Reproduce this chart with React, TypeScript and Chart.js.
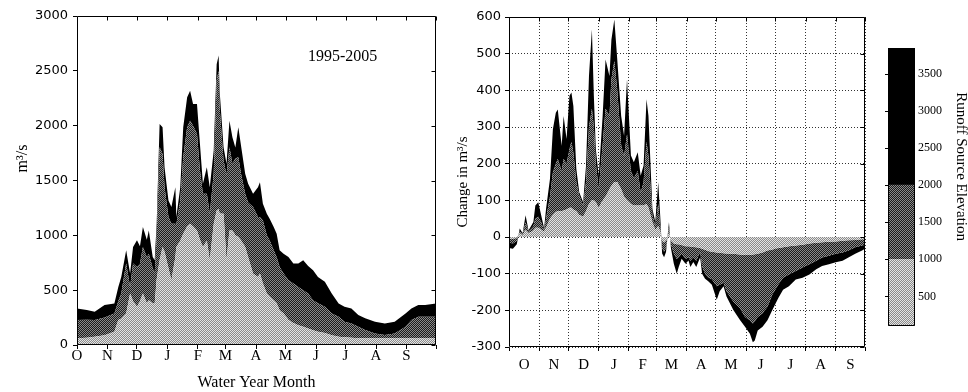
import React, { useEffect, useRef } from 'react';
import { Chart, registerables } from 'chart.js';

Chart.register(...registerables);

// ---------- data ----------
const monthLabels = ['O', 'N', 'D', 'J', 'F', 'M', 'A', 'M', 'J', 'J', 'A', 'S'];
const monthStarts = [0, 31, 61, 92, 123, 151, 182, 212, 243, 273, 304, 335, 365];
const monthMids = monthStarts.slice(0, 12).map((d, i) => (d + monthStarts[i + 1]) / 2);
const flowTicks = [0, 500, 1000, 1500, 2000, 2500, 3000];
const changeTicks = [-300, -200, -100, 0, 100, 200, 300, 400, 500, 600];
const elevTicks = [500, 1000, 1500, 2000, 2500, 3000, 3500];
const elevBands = [100, 1000, 2000, 3850];
const periodLabel = '1995-2005';

// Left panel: daily flow 1995-2005 (m3/s), cumulative layer tops by elevation band
const leftDays = [0, 10, 18, 28, 38, 42, 45, 50, 54, 57, 61, 64, 67, 71, 73, 77, 79, 81, 84, 87, 89, 93, 96, 100, 101, 105, 108, 112, 115, 118, 122, 125, 128, 132, 135, 139, 142, 144, 145, 149, 152, 155, 158, 161, 164, 167, 171, 174, 179, 184, 186, 189, 193, 196, 200, 203, 206, 210, 215, 220, 225, 230, 235, 240, 245, 252, 259, 266, 272, 279, 286, 293, 303, 313, 323, 334, 340, 347, 354, 365];
const leftLow = [61, 65, 76, 90, 121, 227, 240, 288, 470, 400, 349, 400, 470, 380, 409, 379, 379, 600, 773, 894, 850, 700, 591, 800, 894, 950, 1015, 1080, 1106, 1080, 1045, 960, 894, 950, 773, 1100, 1227, 1240, 1200, 1197, 773, 1045, 1045, 1000, 985, 950, 894, 800, 652, 620, 652, 560, 470, 440, 409, 380, 318, 290, 227, 200, 180, 167, 150, 135, 121, 110, 90, 76, 70, 65, 61, 61, 61, 61, 61, 61, 61, 61, 61, 61];
const leftMid = [227, 230, 227, 250, 288, 400, 470, 743, 530, 743, 712, 740, 894, 800, 833, 700, 652, 1000, 1803, 1742, 1439, 1167, 1106, 1106, 1100, 1318, 1712, 1985, 2045, 2000, 1924, 1591, 1380, 1379, 1197, 1561, 2409, 2500, 2167, 1682, 1550, 1803, 1652, 1700, 1712, 1550, 1379, 1300, 1258, 1167, 1167, 1136, 1000, 950, 864, 800, 712, 652, 591, 561, 530, 500, 470, 409, 380, 349, 288, 258, 212, 197, 167, 136, 106, 91, 106, 167, 227, 258, 258, 258];
const leftTotal = [333, 320, 303, 364, 379, 530, 621, 864, 652, 894, 955, 900, 1076, 960, 1045, 803, 773, 1106, 2015, 1985, 1621, 1318, 1258, 1439, 1167, 1439, 1985, 2258, 2318, 2197, 2197, 1833, 1470, 1621, 1439, 1773, 2561, 2640, 2318, 1803, 1652, 2045, 1894, 1800, 1985, 1803, 1561, 1470, 1379, 1439, 1485, 1288, 1197, 1150, 1076, 1015, 864, 833, 803, 743, 743, 773, 720, 682, 621, 576, 470, 379, 349, 333, 273, 243, 212, 197, 212, 288, 333, 364, 364, 379];

// Right panel: change in flow (m3/s), cumulative layer boundaries by elevation band
const rightDays = [0, 4, 8, 11, 14, 17, 20, 25, 27, 30, 33, 36, 38, 42, 45, 48, 50, 54, 56, 59, 62, 64, 66, 69, 72, 76, 79, 82, 85, 87, 89, 92, 96, 99, 103, 105, 108, 111, 115, 118, 121, 125, 128, 132, 135, 138, 141, 143, 147, 150, 153, 155, 157, 159, 161, 164, 166, 169, 172, 174, 177, 181, 184, 186, 189, 192, 196, 198, 201, 204, 208, 213, 216, 220, 223, 230, 237, 242, 247, 250, 252, 255, 260, 265, 270, 276, 281, 287, 294, 301, 308, 315, 321, 328, 335, 342, 348, 355, 362, 365];
const rightLow = [-5, -5, -3, 10, 5, 20, 10, 18, 25, 25, 20, 15, 25, 50, 60, 68, 70, 70, 72, 75, 80, 80, 75, 70, 60, 55, 70, 90, 100, 100, 95, 80, 100, 110, 130, 140, 150, 150, 130, 110, 100, 90, 86, 86, 86, 86, 90, 80, 40, 20, 30, 15, -10, -15, -10, 10, -10, -18, -20, -20, -22, -25, -25, -26, -27, -28, -30, -32, -35, -38, -40, -42, -43, -44, -45, -46, -48, -49, -49, -48, -47, -46, -42, -37, -34, -30, -28, -25, -23, -21, -18, -16, -14, -13, -12, -10, -9, -8, -6, -6];
const rightMid = [-15, -18, -10, 15, 8, 40, 15, 30, 50, 55, 40, 18, 50, 110, 176, 200, 213, 180, 213, 200, 240, 260, 230, 150, 113, 86, 150, 300, 350, 300, 200, 130, 250, 350, 330, 430, 480, 400, 250, 220, 280, 180, 160, 180, 120, 150, 260, 220, 60, 30, 90, 30, -30, -40, -30, 25, -20, -45, -60, -55, -45, -60, -55, -65, -55, -65, -40, -80, -100, -110, -115, -134, -130, -125, -148, -176, -194, -218, -227, -236, -230, -218, -208, -190, -157, -130, -111, -102, -93, -83, -74, -65, -56, -51, -46, -42, -37, -28, -23, -21];
const rightTotal = [-30, -32, -20, 23, 10, 59, 18, 41, 86, 95, 59, 23, 77, 158, 294, 339, 348, 249, 330, 267, 385, 394, 357, 186, 122, 95, 195, 439, 566, 385, 240, 167, 330, 484, 439, 538, 593, 484, 330, 276, 430, 222, 204, 231, 167, 195, 376, 330, 77, 41, 149, 59, -45, -55, -41, 40, -30, -73, -100, -82, -59, -73, -64, -82, -68, -82, -55, -100, -114, -120, -130, -171, -148, -134, -162, -199, -227, -245, -264, -287, -282, -255, -245, -227, -199, -167, -144, -134, -116, -111, -102, -88, -79, -74, -69, -65, -56, -46, -37, -32];

// ---------- styling ----------
const SERIF = "'Liberation Serif', 'Times New Roman', serif";
const SANS = "'DejaVu Sans', sans-serif";

function makePattern(target: HTMLCanvasElement, a: string, b: string) {
  const c = document.createElement('canvas');
  c.width = 2;
  c.height = 2;
  const g = c.getContext('2d')!;
  g.fillStyle = a;
  g.fillRect(0, 0, 2, 2);
  g.fillStyle = b;
  g.fillRect(0, 0, 1, 1);
  g.fillRect(1, 1, 1, 1);
  return target.getContext('2d')!.createPattern(c, 'repeat')!;
}

function series(days: number[], vals: number[]) {
  return days.map((d, i) => ({ x: d, y: vals[i] }));
}

function framePlugin(topTicks: number[] | null, rightTicks: number[] | null) {
  return {
    id: 'frame',
    afterDraw(chart: any) {
      const { ctx, chartArea: a } = chart;
      const L = Math.round(a.left) + 0.5;
      const R = Math.round(a.right) - 0.5;
      const T = Math.round(a.top) + 0.5;
      const B = Math.round(a.bottom) - 0.5;
      ctx.save();
      ctx.strokeStyle = '#000';
      ctx.lineWidth = 1;
      ctx.beginPath();
      ctx.rect(L, T, R - L, B - T);
      if (topTicks) {
        topTicks.forEach((v) => {
          const px = Math.round(chart.scales.x.getPixelForValue(v)) + 0.5;
          ctx.moveTo(px, T);
          ctx.lineTo(px, T + 4);
        });
      }
      if (rightTicks) {
        rightTicks.forEach((v) => {
          const py = Math.round(chart.scales.y.getPixelForValue(v)) + 0.5;
          ctx.moveTo(R, py);
          ctx.lineTo(R - 4, py);
        });
      }
      ctx.stroke();
      ctx.restore();
    },
  };
}

export default function App() {
  const leftRef = useRef<HTMLCanvasElement>(null);
  const rightRef = useRef<HTMLCanvasElement>(null);
  const barRef = useRef<HTMLCanvasElement>(null);

  useEffect(() => {
    const lc = leftRef.current!;
    const rc = rightRef.current!;
    const bc = barRef.current!;
    Chart.defaults.color = '#000';
    Chart.defaults.font.family = SERIF;

    const lightL = makePattern(lc, '#8a8a8a', '#e4e4e4');
    const midL = makePattern(lc, '#1c1c1c', '#8a8a8a');
    const lightR = makePattern(rc, '#8a8a8a', '#e4e4e4');
    const midR = makePattern(rc, '#1c1c1c', '#8a8a8a');
    const lightB = makePattern(bc, '#8a8a8a', '#e4e4e4');
    const midB = makePattern(bc, '#1c1c1c', '#8a8a8a');

    const lineDs = (label: string, data: any, fill: any, color: any) => ({
      label,
      data,
      fill,
      backgroundColor: color,
      borderColor: 'transparent',
      borderWidth: 0,
      pointRadius: 0,
      tension: 0,
    });

    const leftText = {
      id: 'leftText',
      afterDraw(chart: any) {
        const { ctx } = chart;
        const xs = chart.scales.x;
        const ys = chart.scales.y;
        ctx.save();
        ctx.fillStyle = '#000';
        ctx.font = `16px ${SERIF}`;
        ctx.textAlign = 'center';
        ctx.textBaseline = 'middle';
        ctx.fillText(periodLabel, xs.getPixelForValue(270), ys.getPixelForValue(2627));
        ctx.translate(chart.chartArea.left - 54, ys.getPixelForValue(1700));
        ctx.rotate(-Math.PI / 2);
        ctx.fillText('m³/s', 0, 0);
        ctx.restore();
      },
    };

    const left = new Chart(lc, {
      type: 'line',
      data: {
        datasets: [
          lineDs('< 1000 m', series(leftDays, leftLow), 'origin', lightL),
          lineDs('1000-2000 m', series(leftDays, leftMid), '-1', midL),
          lineDs('> 2000 m', series(leftDays, leftTotal), '-1', '#000'),
        ],
      },
      options: {
        animation: false,
        responsive: false,
        events: [],
        layout: { padding: { left: 0, right: 14, top: 16, bottom: 0 } },
        plugins: { legend: { display: false }, tooltip: { enabled: false } },
        scales: {
          x: {
            type: 'linear',
            min: 0,
            max: 365,
            afterBuildTicks: (s: any) => {
              s.ticks = monthStarts.map((v) => ({ value: v }));
            },
            afterFit: (s: any) => {
              s.height = 47;
            },
            ticks: {
              autoSkip: false,
              maxRotation: 0,
              padding: -2,
              font: { family: SERIF, size: 15 },
              callback: (_v: any, i: number) => monthLabels[i] ?? '',
            },
            grid: { display: true, drawOnChartArea: false, drawTicks: true, tickLength: 4, color: '#000' },
            border: { display: false },
            title: {
              display: true,
              text: 'Water Year Month',
              font: { family: SERIF, size: 16 },
              padding: { top: 0, bottom: 0 },
            },
          },
          y: {
            type: 'linear',
            min: 0,
            max: 3000,
            afterBuildTicks: (s: any) => {
              s.ticks = flowTicks.map((v) => ({ value: v }));
            },
            afterFit: (s: any) => {
              s.width = 77;
            },
            ticks: {
              padding: 5,
              font: { family: SANS, size: 13 },
              callback: (v: any) => String(v),
            },
            grid: { display: true, drawOnChartArea: false, drawTicks: true, tickLength: 4, color: '#000' },
            border: { display: false },
          },
        },
      },
      plugins: [framePlugin(monthStarts, flowTicks), leftText],
    } as any);

    const isStart = (c: any) => !!c.tick && monthStarts.includes(c.tick.value);

    const right = new Chart(rc, {
      type: 'line',
      data: {
        datasets: [
          lineDs('< 1000 m', series(rightDays, rightLow), 'origin', lightR),
          lineDs('1000-2000 m', series(rightDays, rightMid), '-1', midR),
          lineDs('> 2000 m', series(rightDays, rightTotal), '-1', '#000'),
        ],
      },
      options: {
        animation: false,
        responsive: false,
        events: [],
        layout: { padding: { left: 0, right: 2, top: 17, bottom: 0 } },
        plugins: { legend: { display: false }, tooltip: { enabled: false } },
        scales: {
          x: {
            type: 'linear',
            min: 0,
            max: 365,
            afterBuildTicks: (s: any) => {
              const t = [...monthStarts, ...monthMids].sort((a, b) => a - b);
              s.ticks = t.map((v) => ({ value: v }));
            },
            afterFit: (s: any) => {
              s.height = 45;
            },
            ticks: {
              autoSkip: false,
              maxRotation: 0,
              padding: 5,
              font: { family: SERIF, size: 15 },
              callback: (v: any) => {
                const k = monthMids.indexOf(v);
                return k >= 0 ? monthLabels[k] : '';
              },
            },
            grid: {
              display: true,
              drawOnChartArea: true,
              drawTicks: true,
              tickLength: 4,
              color: (c: any) => (isStart(c) ? '#333' : 'transparent'),
              tickColor: (c: any) => (isStart(c) ? '#000' : 'transparent'),
            },
            border: { display: false, dash: [1, 2] },
          },
          y: {
            type: 'linear',
            min: -300,
            max: 600,
            afterBuildTicks: (s: any) => {
              s.ticks = changeTicks.map((v) => ({ value: v }));
            },
            afterFit: (s: any) => {
              s.width = 59;
            },
            ticks: {
              padding: 4,
              font: { family: SANS, size: 13 },
              callback: (v: any) => String(v),
            },
            grid: { display: true, drawOnChartArea: true, drawTicks: true, tickLength: 4, color: '#333', tickColor: '#000' },
            border: { display: false, dash: [1, 2] },
            title: {
              display: true,
              text: 'Change in m³/s',
              font: { family: SERIF, size: 15 },
              padding: { top: 4, bottom: 0 },
            },
          },
        },
      },
      plugins: [framePlugin(monthStarts, changeTicks)],
    } as any);

    const barText = {
      id: 'barText',
      afterDraw(chart: any) {
        const { ctx, chartArea: a } = chart;
        const ys = chart.scales.y;
        ctx.save();
        ctx.strokeStyle = '#000';
        ctx.lineWidth = 1;
        ctx.beginPath();
        elevTicks.forEach((v) => {
          const py = Math.round(ys.getPixelForValue(v)) + 0.5;
          ctx.moveTo(a.left - 3, py);
          ctx.lineTo(a.left, py);
        });
        ctx.stroke();
        ctx.fillStyle = '#000';
        ctx.font = `15px ${SERIF}`;
        ctx.textAlign = 'center';
        ctx.textBaseline = 'middle';
        ctx.translate(a.right + 46, ys.getPixelForValue(2250));
        ctx.rotate(Math.PI / 2);
        ctx.fillText('Runoff Source Elevation', 0, 0);
        ctx.restore();
      },
    };

    const bar = new Chart(bc, {
      type: 'bar',
      data: {
        labels: [''],
        datasets: [
          { label: '< 1000 m', data: [[elevBands[0], elevBands[1]]], backgroundColor: lightB },
          { label: '1000-2000 m', data: [[elevBands[1], elevBands[2]]], backgroundColor: midB },
          { label: '> 2000 m', data: [[elevBands[2], elevBands[3]]], backgroundColor: '#000' },
        ].map((d) => ({ ...d, grouped: false, barPercentage: 1, categoryPercentage: 1, borderWidth: 0 })),
      },
      options: {
        animation: false,
        responsive: false,
        events: [],
        layout: { padding: { left: 18, right: 0, top: 48, bottom: 66 } },
        plugins: { legend: { display: false }, tooltip: { enabled: false } },
        scales: {
          x: { display: false },
          y: {
            position: 'right',
            type: 'linear',
            min: elevBands[0],
            max: elevBands[3],
            afterBuildTicks: (s: any) => {
              s.ticks = elevTicks.map((v) => ({ value: v }));
            },
            afterFit: (s: any) => {
              s.width = 53;
            },
            ticks: {
              padding: 3,
              font: { family: SERIF, size: 12 },
              callback: (v: any) => String(v),
            },
            grid: { display: false, drawTicks: false },
            border: { display: false },
          },
        },
      },
      plugins: [framePlugin(null, null), barText],
    } as any);

    return () => {
      left.destroy();
      right.destroy();
      bar.destroy();
    };
  }, []);

  return (
    <div style={{ position: 'absolute', left: 0, top: 0, width: 968, height: 392, background: '#fff' }}>
      <canvas ref={leftRef} width={450} height={392} style={{ position: 'absolute', left: 0, top: 0, width: 450, height: 392 }} />
      <canvas ref={rightRef} width={420} height={392} style={{ position: 'absolute', left: 450, top: 0, width: 420, height: 392 }} />
      <canvas ref={barRef} width={98} height={392} style={{ position: 'absolute', left: 870, top: 0, width: 98, height: 392 }} />
    </div>
  );
}
